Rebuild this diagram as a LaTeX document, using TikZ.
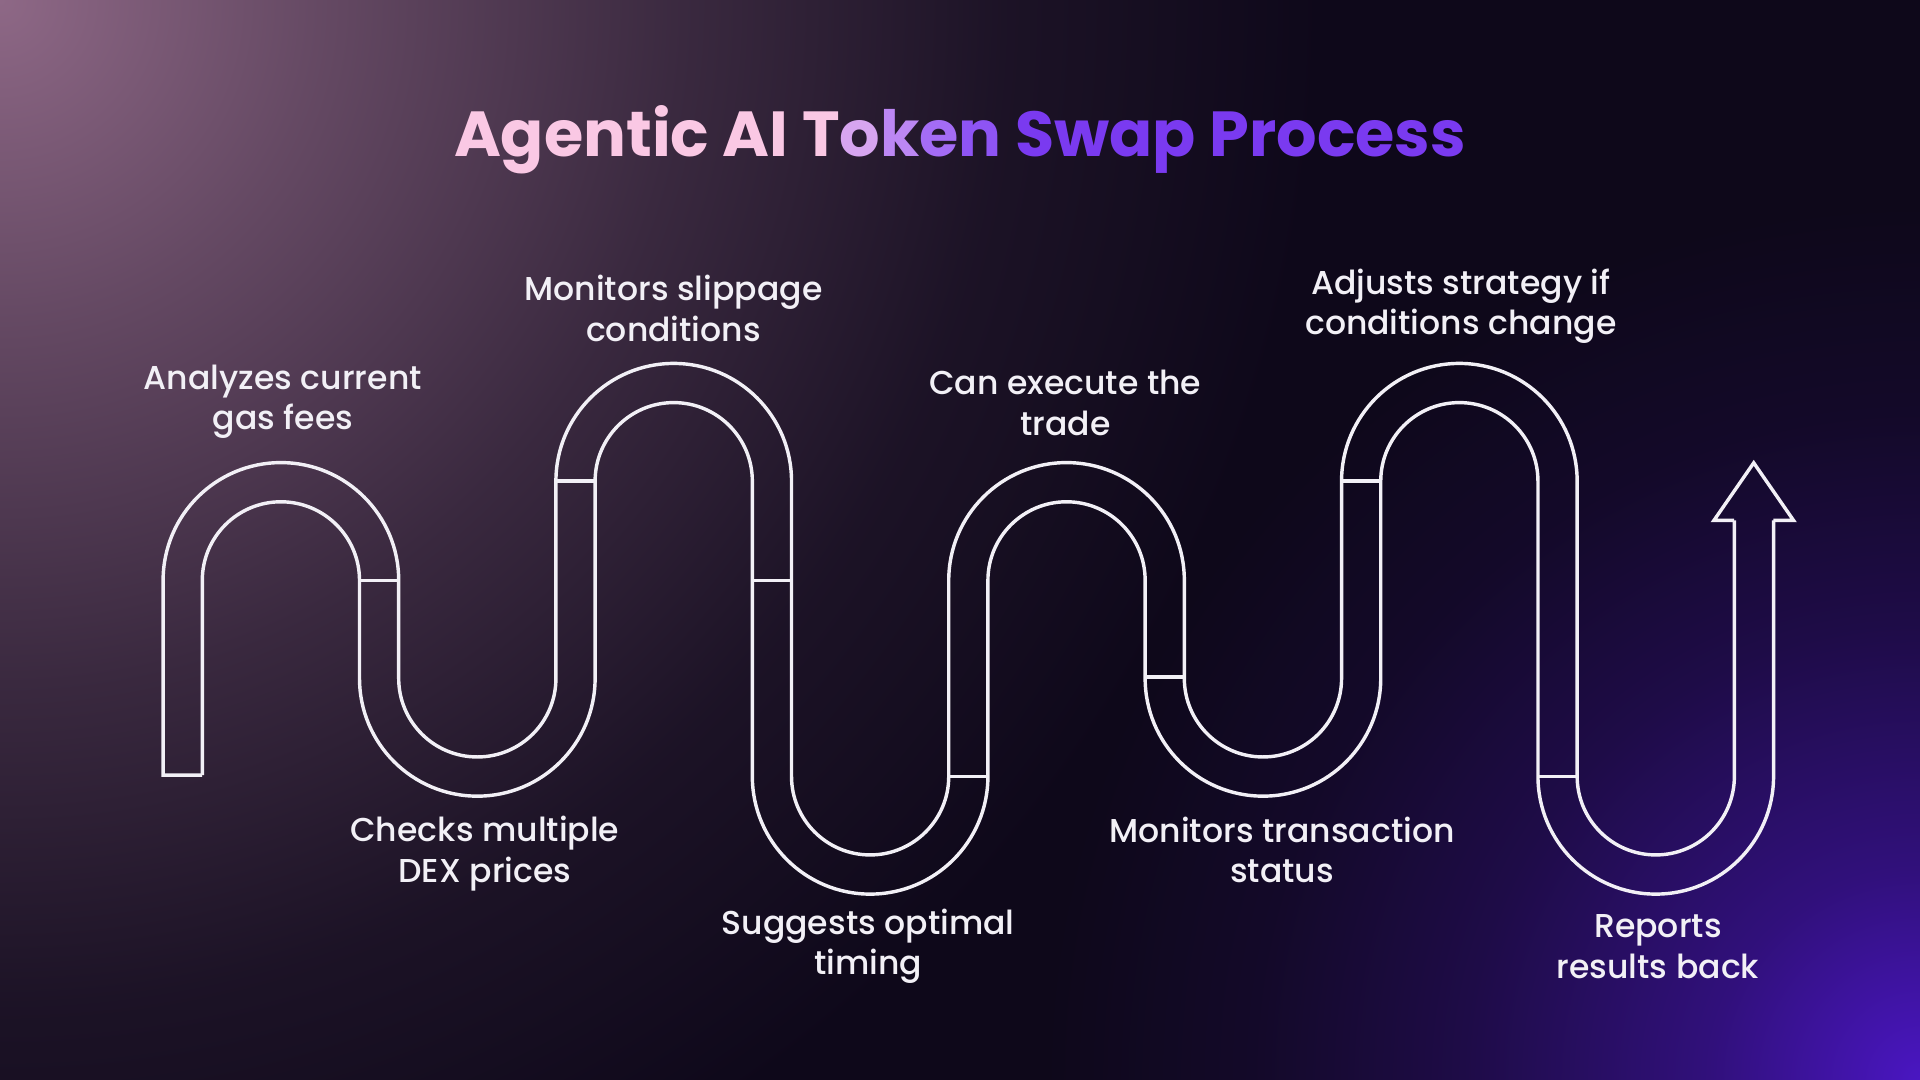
\documentclass[tikz,border=0pt]{standalone}
\usepackage{fontspec}
\setmainfont{Poppins}
\newfontfamily\swlabelfont{Poppins Medium}
\usetikzlibrary{positioning}
\definecolor{swBg}{RGB}{14,8,26}
\definecolor{swGlowTL}{RGB}{142,104,134}
\definecolor{swGlowBR}{RGB}{74,22,194}
\definecolor{swPink}{RGB}{250,200,228}
\definecolor{swLavA}{RGB}{215,165,240}
\definecolor{swLavB}{RGB}{188,135,244}
\definecolor{swLavC}{RGB}{164,108,245}
\definecolor{swLavD}{RGB}{142,84,244}
\definecolor{swPurple}{RGB}{122,58,240}
\definecolor{swText}{RGB}{242,240,246}
\colorlet{swTLmidA}{swGlowTL!68!swBg}
\colorlet{swTLmidB}{swGlowTL!34!swBg}
\colorlet{swTLmidC}{swGlowTL!11!swBg}
\colorlet{swBRmidA}{swGlowBR!58!swBg}
\colorlet{swBRmidB}{swGlowBR!27!swBg}
\colorlet{swBRmidC}{swGlowBR!9!swBg}
% the path is fitted to the inner 25bp radius of a radial shading
\pgfdeclareradialshading{glowTL}{\pgfpoint{0bp}{0bp}}{color(0bp)=(swGlowTL); color(6bp)=(swTLmidA); color(13bp)=(swTLmidB); color(19bp)=(swTLmidC); color(25bp)=(swBg); color(50bp)=(swBg)}
\pgfdeclareradialshading{glowBR}{\pgfpoint{0bp}{0bp}}{color(0bp)=(swGlowBR); color(6bp)=(swBRmidA); color(13bp)=(swBRmidB); color(19bp)=(swBRmidC); color(25bp)=(swBg); color(50bp)=(swBg)}

\begin{document}
\begin{tikzpicture}[
  x=1pt, y=1pt,
  pipe/.style={draw=swText, line width=2.8pt, line join=miter},
  lbl/.style={text=swText, font=\swlabelfont\fontsize{27}{33}\selectfont, align=center, inner sep=0pt},
  ttl/.style={font=\fontsize{52}{60}\selectfont\bfseries, inner sep=0pt}
]

% background
\fill[swBg] (0,0) rectangle (1568,882);
\begin{scope}
  \clip (0,0) rectangle (1568,882);
  \shade[shading=glowTL] (0,882) circle[radius=1080pt];
  \shade[shading=glowBR] (1568,0) circle[radius=715pt];
\end{scope}
\useasboundingbox (0,0) rectangle (1568,882);

% title
\node[ttl] (title) at (784,768) {{\color{swPink}Agentic AI T}{\color{swLavA}o}{\color{swLavB}k}{\color{swLavC}e}{\color{swLavD}n} {\color{swPurple}Swap Process}};

% outer wall of the pipe
\draw[pipe] (165,249) -- (133.2,249) -- (133.2,408)
  arc[start angle=180, end angle=0, radius=96.2pt] -- ++(0,-80)
  arc[start angle=180, end angle=360, radius=64.2pt] -- ++(0,161)
  arc[start angle=180, end angle=0, radius=96.2pt] -- ++(0,-241)
  arc[start angle=180, end angle=360, radius=64.2pt] -- ++(0,160)
  arc[start angle=180, end angle=0, radius=96.2pt] -- ++(0,-80)
  arc[start angle=180, end angle=360, radius=64.2pt] -- ++(0,161)
  arc[start angle=180, end angle=0, radius=96.2pt] -- ++(0,-241)
  arc[start angle=180, end angle=360, radius=64.2pt] -- ++(0,209);

% inner wall of the pipe
\draw[pipe] (165.2,249) -- (165.2,408)
  arc[start angle=180, end angle=0, radius=64.2pt] -- ++(0,-80)
  arc[start angle=180, end angle=360, radius=96.2pt] -- ++(0,161)
  arc[start angle=180, end angle=0, radius=64.2pt] -- ++(0,-241)
  arc[start angle=180, end angle=360, radius=96.2pt] -- ++(0,160)
  arc[start angle=180, end angle=0, radius=64.2pt] -- ++(0,-80)
  arc[start angle=180, end angle=360, radius=96.2pt] -- ++(0,161)
  arc[start angle=180, end angle=0, radius=64.2pt] -- ++(0,-241)
  arc[start angle=180, end angle=360, radius=96.2pt] -- ++(0,209);

% arrow head
\coordinate (tip) at (1432.2,504);
\draw[pipe] (1416.2,457) -- (1399.7,457) -- (tip) -- (1464.7,457) -- (1448.2,457);

% step dividers
\foreach \x/\y in {309.4/408, 469.8/489, 630.2/408, 790.6/248, 951/329, 1111.4/489, 1271.8/248}
  \draw[pipe] (\x-16,\y) -- (\x+16,\y);

% step labels
\node[lbl] (s1) at (231,554) {Analyzes current\\gas fees};
\node[lbl] (s2) at (396,185) {Checks multiple\\DEX prices};
\node[lbl] (s3) at (550,630) {Monitors slippage\\conditions};
\node[lbl] (s4) at (709,109) {Suggests optimal\\timing};
\node[lbl] (s5) at (870,553) {Can execute the\\trade};
\node[lbl] (s6) at (1047,188) {Monitors transaction\\status};
\node[lbl] (s7) at (1193,632) {Adjusts strategy if\\conditions change};
\node[lbl] (s8) at (1354,109) {Reports\\results back};

\end{tikzpicture}
\end{document}
